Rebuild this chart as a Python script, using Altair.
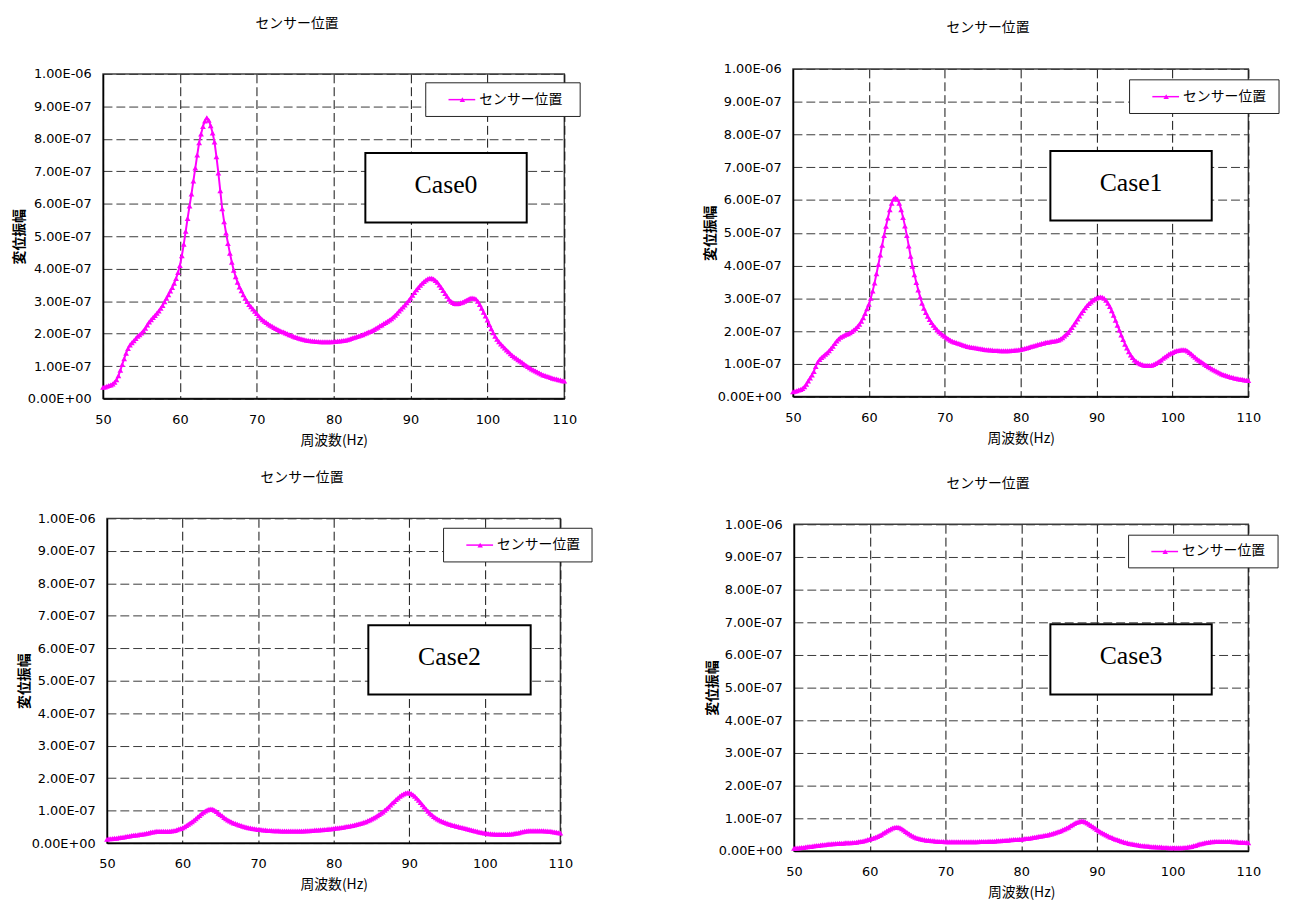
import altair as alt
import pandas as pd

JP_FONT = "Noto Sans CJK JP"
NUM_FONT = "DejaVu Sans"
SERIF_FONT = "Liberation Serif"
MAGENTA = "#FF00FF"

# ---------------- data (amplitudes in units of 1e-7) ----------------
freq_hz = [50 + 0.25 * i for i in range(241)]

case0_amp_e7 = [
    0.35, 0.36, 0.38, 0.40, 0.42, 0.45, 0.50, 0.58, 0.70, 0.87, 1.05, 1.23, 1.40, 1.54, 1.65, 1.72, 1.78, 1.85, 1.92, 1.97,
    2.02, 2.09, 2.17, 2.27, 2.36, 2.43, 2.50, 2.56, 2.63, 2.70, 2.78, 2.87, 2.98, 3.09, 3.20, 3.31, 3.42, 3.55, 3.70, 3.88,
    4.10, 4.40, 4.75, 5.15, 5.55, 5.93, 6.30, 6.70, 7.10, 7.50, 7.88, 8.15, 8.38, 8.55, 8.65, 8.57, 8.40, 8.18, 7.90, 7.45,
    6.95, 6.40, 5.85, 5.45, 5.10, 4.78, 4.48, 4.20, 3.95, 3.75, 3.58, 3.44, 3.32, 3.20, 3.09, 2.99, 2.90, 2.83, 2.76, 2.69,
    2.62, 2.55, 2.48, 2.43, 2.38, 2.34, 2.30, 2.26, 2.23, 2.19, 2.16, 2.13, 2.10, 2.07, 2.05, 2.02, 2.00, 1.97, 1.95, 1.92,
    1.90, 1.88, 1.86, 1.84, 1.83, 1.81, 1.80, 1.79, 1.78, 1.77, 1.77, 1.76, 1.76, 1.75, 1.75, 1.75, 1.75, 1.75, 1.75, 1.75,
    1.76, 1.76, 1.77, 1.77, 1.78, 1.79, 1.80, 1.81, 1.83, 1.85, 1.87, 1.89, 1.91, 1.93, 1.95, 1.97, 2.00, 2.02, 2.05, 2.07,
    2.10, 2.13, 2.17, 2.20, 2.24, 2.27, 2.31, 2.34, 2.38, 2.42, 2.46, 2.51, 2.57, 2.63, 2.70, 2.76, 2.82, 2.88, 2.95, 3.02,
    3.10, 3.18, 3.27, 3.35, 3.42, 3.49, 3.55, 3.61, 3.65, 3.69, 3.71, 3.71, 3.68, 3.64, 3.58, 3.50, 3.42, 3.33, 3.24, 3.15,
    3.06, 3.00, 2.96, 2.93, 2.92, 2.93, 2.95, 2.97, 3.00, 3.03, 3.06, 3.09, 3.10, 3.09, 3.07, 3.00, 2.90, 2.78, 2.66, 2.54,
    2.42, 2.28, 2.15, 2.03, 1.92, 1.83, 1.75, 1.68, 1.62, 1.56, 1.50, 1.44, 1.38, 1.33, 1.28, 1.24, 1.20, 1.16, 1.12, 1.07,
    1.03, 0.99, 0.95, 0.91, 0.88, 0.85, 0.82, 0.79, 0.76, 0.73, 0.71, 0.69, 0.67, 0.65, 0.63, 0.61, 0.60, 0.58, 0.57, 0.55,
    0.54,
]

case1_amp_e7 = [
    0.15, 0.16, 0.18, 0.20, 0.22, 0.25, 0.30, 0.38, 0.48, 0.57, 0.66, 0.77, 0.92, 1.05, 1.13, 1.19, 1.24, 1.29, 1.34, 1.40,
    1.47, 1.54, 1.62, 1.70, 1.76, 1.81, 1.84, 1.87, 1.90, 1.92, 1.95, 1.99, 2.03, 2.08, 2.14, 2.21, 2.30, 2.41, 2.54, 2.68,
    2.82, 3.00, 3.22, 3.47, 3.75, 4.03, 4.32, 4.62, 4.92, 5.20, 5.45, 5.70, 5.90, 6.03, 6.08, 6.02, 5.90, 5.70, 5.47, 5.21,
    4.92, 4.60, 4.28, 3.98, 3.72, 3.48, 3.25, 3.04, 2.85, 2.70, 2.57, 2.45, 2.35, 2.26, 2.18, 2.11, 2.04, 1.98, 1.93, 1.88,
    1.84, 1.80, 1.76, 1.72, 1.69, 1.67, 1.65, 1.63, 1.61, 1.59, 1.57, 1.55, 1.53, 1.52, 1.51, 1.50, 1.49, 1.48, 1.47, 1.46,
    1.45, 1.44, 1.43, 1.43, 1.42, 1.42, 1.41, 1.41, 1.41, 1.40, 1.40, 1.40, 1.40, 1.40, 1.40, 1.41, 1.41, 1.42, 1.42, 1.43,
    1.44, 1.45, 1.47, 1.48, 1.50, 1.52, 1.54, 1.55, 1.57, 1.59, 1.60, 1.62, 1.63, 1.65, 1.66, 1.67, 1.68, 1.69, 1.70, 1.71,
    1.73, 1.76, 1.80, 1.85, 1.90, 1.96, 2.03, 2.11, 2.19, 2.28, 2.37, 2.46, 2.55, 2.63, 2.71, 2.78, 2.84, 2.89, 2.94, 2.98,
    3.01, 3.03, 3.04, 3.03, 3.00, 2.94, 2.85, 2.75, 2.62, 2.48, 2.33, 2.18, 2.03, 1.88, 1.74, 1.60, 1.48, 1.37, 1.27, 1.19,
    1.12, 1.07, 1.03, 1.00, 0.98, 0.96, 0.95, 0.95, 0.95, 0.96, 0.98, 1.01, 1.04, 1.08, 1.12, 1.17, 1.21, 1.25, 1.29, 1.32,
    1.35, 1.38, 1.40, 1.41, 1.42, 1.43, 1.43, 1.42, 1.39, 1.35, 1.30, 1.25, 1.20, 1.15, 1.11, 1.07, 1.03, 0.99, 0.95, 0.91,
    0.88, 0.84, 0.81, 0.78, 0.75, 0.72, 0.69, 0.67, 0.65, 0.63, 0.61, 0.59, 0.58, 0.56, 0.55, 0.54, 0.53, 0.52, 0.51, 0.50,
    0.49,
]

case2_amp_e7 = [
    0.12, 0.13, 0.13, 0.14, 0.15, 0.15, 0.16, 0.17, 0.18, 0.19, 0.20, 0.21, 0.22, 0.23, 0.24, 0.25, 0.25, 0.26, 0.27, 0.28,
    0.29, 0.30, 0.31, 0.33, 0.34, 0.35, 0.36, 0.36, 0.36, 0.36, 0.36, 0.36, 0.36, 0.36, 0.37, 0.38, 0.39, 0.41, 0.43, 0.45,
    0.47, 0.50, 0.54, 0.58, 0.62, 0.66, 0.70, 0.75, 0.80, 0.85, 0.90, 0.95, 0.99, 1.02, 1.04, 1.05, 1.04, 1.01, 0.97, 0.92,
    0.88, 0.84, 0.79, 0.75, 0.71, 0.68, 0.65, 0.62, 0.60, 0.58, 0.56, 0.54, 0.52, 0.50, 0.49, 0.47, 0.46, 0.45, 0.44, 0.43,
    0.42, 0.42, 0.41, 0.40, 0.40, 0.39, 0.39, 0.39, 0.38, 0.38, 0.38, 0.38, 0.37, 0.37, 0.37, 0.37, 0.37, 0.37, 0.37, 0.37,
    0.37, 0.37, 0.37, 0.37, 0.37, 0.38, 0.38, 0.38, 0.39, 0.39, 0.40, 0.40, 0.40, 0.41, 0.41, 0.42, 0.42, 0.43, 0.43, 0.44,
    0.45, 0.46, 0.46, 0.47, 0.48, 0.49, 0.50, 0.51, 0.52, 0.53, 0.54, 0.56, 0.57, 0.59, 0.60, 0.62, 0.64, 0.66, 0.69, 0.71,
    0.74, 0.77, 0.80, 0.84, 0.88, 0.92, 0.96, 1.01, 1.06, 1.11, 1.17, 1.23, 1.28, 1.34, 1.39, 1.44, 1.48, 1.51, 1.54, 1.55,
    1.55, 1.53, 1.49, 1.44, 1.38, 1.32, 1.25, 1.18, 1.11, 1.04, 0.98, 0.92, 0.87, 0.82, 0.78, 0.74, 0.71, 0.68, 0.66, 0.63,
    0.61, 0.59, 0.57, 0.55, 0.54, 0.52, 0.51, 0.49, 0.48, 0.46, 0.45, 0.43, 0.42, 0.40, 0.39, 0.37, 0.36, 0.34, 0.33, 0.32,
    0.31, 0.30, 0.29, 0.29, 0.28, 0.28, 0.27, 0.27, 0.27, 0.27, 0.27, 0.27, 0.27, 0.28, 0.28, 0.29, 0.30, 0.31, 0.32, 0.34,
    0.35, 0.36, 0.37, 0.38, 0.38, 0.38, 0.38, 0.38, 0.38, 0.38, 0.38, 0.38, 0.37, 0.37, 0.36, 0.36, 0.35, 0.34, 0.33, 0.32,
    0.31,
]

case3_amp_e7 = [
    0.08, 0.09, 0.09, 0.10, 0.11, 0.11, 0.12, 0.13, 0.14, 0.14, 0.15, 0.16, 0.17, 0.17, 0.18, 0.19, 0.19, 0.20, 0.21, 0.21,
    0.22, 0.22, 0.23, 0.23, 0.24, 0.24, 0.24, 0.25, 0.25, 0.25, 0.25, 0.26, 0.26, 0.27, 0.28, 0.29, 0.30, 0.31, 0.33, 0.35,
    0.36, 0.38, 0.40, 0.42, 0.44, 0.47, 0.50, 0.54, 0.57, 0.61, 0.64, 0.67, 0.70, 0.72, 0.73, 0.73, 0.71, 0.68, 0.64, 0.60,
    0.56, 0.52, 0.48, 0.45, 0.42, 0.40, 0.38, 0.37, 0.35, 0.34, 0.33, 0.33, 0.32, 0.31, 0.31, 0.30, 0.30, 0.29, 0.29, 0.29,
    0.28, 0.28, 0.28, 0.28, 0.28, 0.28, 0.28, 0.28, 0.28, 0.28, 0.28, 0.28, 0.28, 0.28, 0.28, 0.28, 0.28, 0.28, 0.29, 0.29,
    0.29, 0.29, 0.29, 0.30, 0.30, 0.30, 0.30, 0.31, 0.31, 0.31, 0.32, 0.32, 0.33, 0.33, 0.34, 0.34, 0.35, 0.35, 0.35, 0.36,
    0.36, 0.37, 0.38, 0.38, 0.39, 0.40, 0.41, 0.42, 0.43, 0.44, 0.45, 0.46, 0.47, 0.48, 0.49, 0.51, 0.52, 0.54, 0.56, 0.58,
    0.60, 0.62, 0.65, 0.67, 0.70, 0.73, 0.77, 0.80, 0.84, 0.87, 0.89, 0.91, 0.92, 0.91, 0.89, 0.86, 0.82, 0.78, 0.74, 0.70,
    0.66, 0.62, 0.58, 0.55, 0.52, 0.49, 0.46, 0.43, 0.41, 0.38, 0.36, 0.34, 0.32, 0.30, 0.28, 0.26, 0.25, 0.23, 0.22, 0.21,
    0.20, 0.19, 0.18, 0.17, 0.16, 0.16, 0.15, 0.15, 0.14, 0.13, 0.13, 0.13, 0.12, 0.12, 0.12, 0.11, 0.11, 0.11, 0.10, 0.10,
    0.10, 0.10, 0.10, 0.10, 0.10, 0.10, 0.11, 0.11, 0.12, 0.13, 0.14, 0.16, 0.17, 0.19, 0.21, 0.22, 0.24, 0.25, 0.26, 0.27,
    0.28, 0.28, 0.29, 0.29, 0.29, 0.29, 0.29, 0.29, 0.29, 0.29, 0.29, 0.29, 0.28, 0.28, 0.28, 0.27, 0.27, 0.27, 0.26, 0.26,
    0.25,
]

series_name = "センサー位置"
x_axis_title = "周波数(Hz)"
y_axis_title = "変位振幅"
case_labels = ["Case0", "Case1", "Case2", "Case3"]
x_tick_values = [50, 60, 70, 80, 90, 100, 110]
y_tick_values = [i * 1e-7 for i in range(11)]
all_amps = [case0_amp_e7, case1_amp_e7, case2_amp_e7, case3_amp_e7]

# ---------------- layout (pixels, relative to each plot area) ----------------
# cell = invisible box [left, top, right, bottom] that fixes each panel's place in the grid
layout = [
    dict(w=466, h=328, cell=(-92, -58, 589, 388), title=(196, -50), ytx=-84.5,
         legend=(326, 9, 482, 43), case=(265, 80, 428, 150)),
    dict(w=460, h=331, cell=(-106, -53, 493, 385), title=(197, -41), ytx=-83,
         legend=(340, 11, 491, 45), case=(260, 83, 423, 153)),
    dict(w=458, h=328, cell=(-96, -59, 589, 378), title=(197, -41), ytx=-83.3,
         legend=(340, 10, 490, 44), case=(264, 108, 428, 178)),
    dict(w=459, h=330, cell=(-103, -70, 493, 379), title=(196, -41), ytx=-82.2,
         legend=(338, 11, 489, 44), case=(259, 101, 422, 172)),
]

one_row = pd.DataFrame({"k": [0]})


def invisible_box(x0, y0, x1, y1):
    return alt.Chart(one_row).mark_rect(fill="white", fillOpacity=0, strokeOpacity=0).encode(
        x=alt.value(x0), x2=alt.value(x1), y=alt.value(y0), y2=alt.value(y1))


def spacer():
    return invisible_box(0, 0, 1, 1).properties(
        width=1, height=1, view=alt.ViewBackground(stroke="transparent"))


def make_panel(i):
    L = layout[i]
    df = pd.DataFrame({"freq": freq_hz, "amp": [v * 1e-7 for v in all_amps[i]]})

    x_enc = alt.X(
        "freq:Q",
        scale=alt.Scale(domain=[50, 110], nice=False, zero=False),
        axis=alt.Axis(values=x_tick_values, title=x_axis_title,
                      titleX=L["w"] / 2, titleY=42),
    )
    y_enc = alt.Y(
        "amp:Q",
        scale=alt.Scale(domain=[0, 1e-6], nice=False, zero=True),
        axis=alt.Axis(
            values=y_tick_values, title=y_axis_title,
            titleX=L["ytx"], titleY=L["h"] / 2, titleFontWeight="bold",
            labelExpr="datum.value < 1e-9 ? '0.00E+00' : (datum.value > 9.5e-7 ? '1.00E-06' : format(datum.value * 1e7, '.2f') + 'E-07')",
        ),
    )

    base1 = alt.Chart(one_row)
    cell = invisible_box(*L["cell"])

    curve = alt.Chart(df).mark_line(
        color=MAGENTA, strokeWidth=2,
        point=alt.OverlayMarkDef(shape="triangle-up", filled=True, size=34, color=MAGENTA, opacity=1),
    ).encode(x=x_enc, y=y_enc)

    tx, ty = L["title"]
    title = base1.mark_text(font=JP_FONT, fontSize=14, color="black",
                            align="center", baseline="middle").encode(
        x=alt.value(tx), y=alt.value(ty), text=alt.value(series_name))

    lx0, ly0, lx1, ly1 = L["legend"]
    lyc = (ly0 + ly1) / 2
    leg_box = base1.mark_rect(fill="white", stroke="#222222", strokeWidth=1).encode(
        x=alt.value(lx0), x2=alt.value(lx1), y=alt.value(ly0), y2=alt.value(ly1))
    leg_line = base1.mark_rule(color=MAGENTA, strokeWidth=1.5).encode(
        x=alt.value(lx0 + 23), x2=alt.value(lx0 + 50), y=alt.value(lyc))
    leg_pt = base1.mark_point(shape="triangle-up", filled=True, size=30,
                              color=MAGENTA, opacity=1).encode(
        x=alt.value(lx0 + 37), y=alt.value(lyc))
    leg_txt = base1.mark_text(font=JP_FONT, fontSize=14, color="black",
                              align="left", baseline="middle").encode(
        x=alt.value(lx0 + 54), y=alt.value(lyc), text=alt.value(series_name))

    cx0, cy0, cx1, cy1 = L["case"]
    case_box = base1.mark_rect(fill="white", stroke="black", strokeWidth=2).encode(
        x=alt.value(cx0), x2=alt.value(cx1), y=alt.value(cy0), y2=alt.value(cy1))
    case_txt = base1.mark_text(font=SERIF_FONT, fontSize=26, color="black",
                               align="center", baseline="middle").encode(
        x=alt.value((cx0 + cx1) / 2), y=alt.value((cy0 + cy1) / 2 - 3),
        text=alt.value(case_labels[i]))

    return alt.layer(cell, curve, title, leg_box, leg_line, leg_pt, leg_txt,
                     case_box, case_txt).properties(width=L["w"], height=L["h"])


grid = [
    spacer(), spacer(), spacer(),
    spacer(), make_panel(0), make_panel(1),
    spacer(), make_panel(2), make_panel(3),
]

chart = (
    alt.concat(*grid, columns=3, spacing=0, align="none", bounds="full")
    .properties(padding=0, background="white")
    .configure_view(stroke="#404040", strokeWidth=1.5)
    .configure_axis(
        domainColor="black", domainWidth=1.5, ticks=False,
        grid=True, gridDash=[9, 4], gridWidth=1,
        labelFont=NUM_FONT, labelFontSize=13, labelColor="black",
        labelFlush=False, labelOverlap=False,
        titleFont=JP_FONT, titleFontSize=14, titleFontWeight="normal",
        titleColor="black", titleBaseline="middle", titleAlign="center",
    )
    .configure_axisX(labelPadding=21, labelBaseline="middle", gridColor="#111111")
    .configure_axisY(labelPadding=12, gridColor="#3a3a3a")
)

chart.save("out.html", embed_options={"renderer": "svg", "actions": False})
